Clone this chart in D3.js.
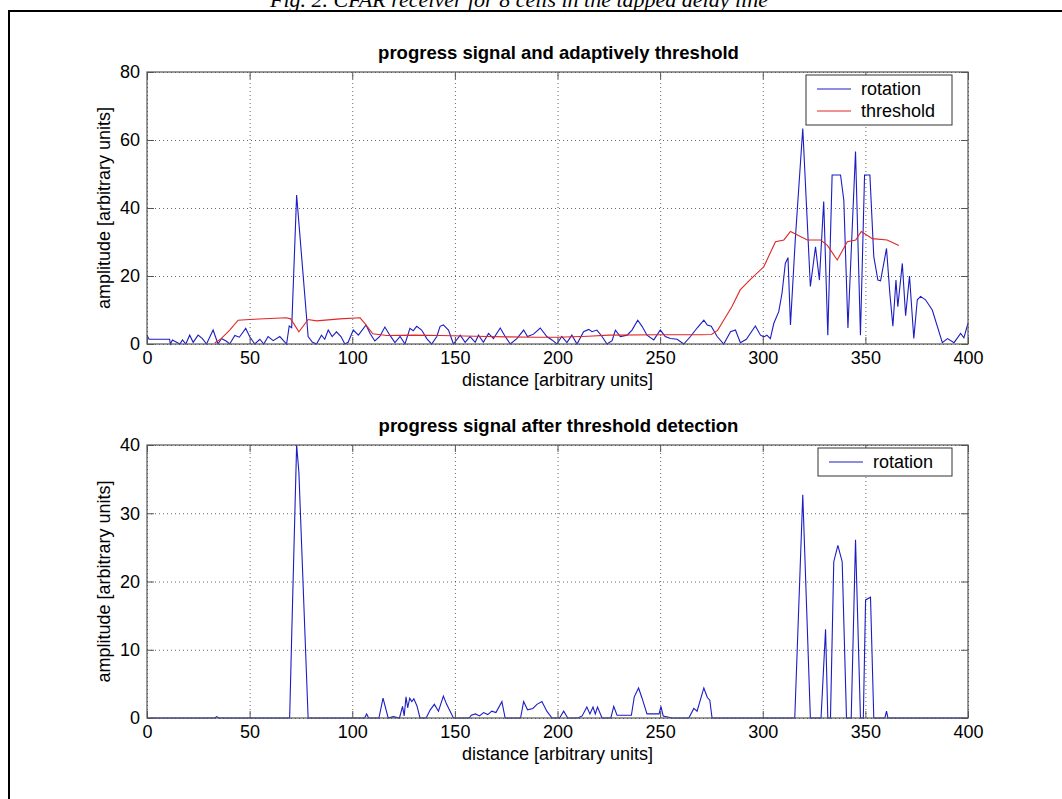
<!DOCTYPE html>
<html>
<head>
<meta charset="utf-8">
<script src="https://cdn.jsdelivr.net/npm/d3@7"></script>
<style>
  body { margin: 0; background: #fff; }
  text { font-family: "Liberation Sans", Arial, Helvetica, sans-serif; fill: #000; }
  .grid line { stroke: #000; stroke-dasharray: 1,3; stroke-width: 0.8; opacity: 0.75; }
  .grid path { display: none; }
  .axis path, .axis line { stroke: #555; }
</style>
</head>
<body>
<script>
/* values: [distance, amplitude] vertices */

const xTicks = [0, 50, 100, 150, 200, 250, 300, 350, 400];
const topYTicks = [0, 20, 40, 60, 80];
const bottomYTicks = [0, 10, 20, 30, 40];

const topRotation = [
  [0,2.6],[1,1.4],[11,1.4],[11.4,0],[12.4,1.2],[16,0],[17.3,1.2],[18.9,0],[20.8,2.6],[22.5,0.5],
  [24.9,2.6],[27,1.6],[29,0],[32.2,4.1],[34.6,0],[36.3,1.6],[38.7,0.8],[40.3,0],[42.8,2.5],[45,2],
  [48.1,4.6],[50,2.2],[52.5,0],[55,1.4],[56.9,0],[59,2.2],[61.5,1],[64.7,2.2],[68,0],[69.3,5.3],
  [70.5,4.8],[72.9,43.8],[78.5,2.2],[80.5,0.6],[82.6,0],[85,2.6],[86.6,1.4],[88.3,4.1],[90.2,2.2],[92.3,3.6],
  [94.5,2.2],[96.4,0],[98,0.5],[100.5,4.1],[103,2.6],[106.7,5.6],[108.7,3.1],[111,0.9],[113.4,2.2],[115.9,5],
  [118.3,2.6],[120.8,0.4],[123.3,2.2],[125.7,0],[128.1,4.6],[129.7,3.9],[131.4,5.2],[133.8,4.1],[136.3,1.6],[138.7,0],
  [141.2,2.2],[142.8,5.2],[144.4,5.6],[146.9,4.1],[149.3,0],[152.6,2.6],[155,0.5],[157.4,2.2],[159.9,0.5],[161.5,2.6],
  [163.9,0.5],[166.4,3.1],[168.8,1.6],[172.1,4.7],[174.5,2.2],[177,0],[180.2,1.6],[183.5,4.1],[185.4,2.2],[188.3,2.9],
  [191.6,4.7],[194.8,2.2],[197.3,1.2],[199.7,0],[202.1,2.2],[204.6,0.4],[207,2.6],[209.5,0],[212.7,3.6],[215.2,4.3],
  [216.8,3.6],[219.2,4.1],[221.7,2.2],[224.1,0],[226.6,1],[228.2,4.1],[230.6,2.2],[233.9,2.6],[236.3,4.1],[239.1,7],
  [241.2,5.2],[243.6,2.6],[246.9,1.2],[250.1,4.1],[252.5,2.2],[255,1.6],[258.3,1.4],[261.5,0],[264.8,2.2],[268,4.7],
  [271.3,7],[273,5.6],[274.9,5.2],[277.8,2.2],[281,0],[284.3,3.6],[286.7,4.1],[289.1,0.4],[292,1.4],[296.4,5.3],
  [298.9,2.6],[300.5,2.1],[302,2.6],[303.7,1.6],[305.4,6.1],[307.8,9.5],[309.4,15],[311,23.7],[312.3,25.4],[313.5,5.6],
  [315.9,31.2],[319.5,63.4],[323.2,16.9],[325.7,28.6],[327.6,18.8],[329.7,41.9],[331.7,2.6],[333.8,49.7],[337.9,49.7],[339.5,42.3],
  [341.5,4.7],[345.2,56.6],[347.6,2.6],[349.6,49.7],[352.2,49.7],[354.1,25.7],[356.1,18.8],[357.4,18.6],[360.3,28.1],[361.9,15],
  [363.4,5.2],[364.9,18.8],[365.8,11],[368,23.7],[369.6,8.3],[371.5,20],[373.6,1.6],[375.3,13],[376.9,14],[379.3,13],
  [382.6,10],[387.5,0.4],[390,1.6],[393.2,0.4],[396.4,3.1],[398,1.8],[400,6.1]
];

const topThreshold = [
  [33,0.3],[36,1.5],[40.3,4.1],[44.4,7],[50,7.2],[60,7.5],[67.8,7.7],[70,7.4],[74,3.6],[78.5,7.2],
  [82.6,6.8],[94,7.4],[103.8,7.7],[106.2,6],[110,3],[116.8,2.5],[130,2.6],[142.8,2.5],[160,2.3],[175,2.1],
  [190,2],[200,2],[215,2.3],[225,2.6],[250,2.7],[270,2.7],[275,2.8],[278,4],[282,8],[285,11],
  [289,15.9],[294,19],[300.5,22.7],[306.2,30.1],[310.3,30.6],[313.5,33.1],[321.7,30.6],[328.2,30.6],[331.5,29],[336.3,24.7],
  [341.2,30.1],[345.3,30.6],[348,33.1],[353.4,31],[360.6,30.6],[366.3,29]
];

const bottomRotation = [
  [0,0],[33,0],[34,0.2],[35,0],[69.5,0],[70.5,12],[72.9,40],[74,36],[75,28],[78.5,0],
  [106,0],[107,0.6],[108,0],[113,0],[115,2.9],[117.5,0],[120,0.2],[123,0],[124.5,1.7],[125.3,0.3],
  [126.2,3.1],[127,1.5],[128,2.9],[129,2.4],[130,2.8],[131.5,1.8],[133,0],[136,0],[138,1.2],[140,2],
  [142,1],[144.4,3.2],[146,2],[149.3,0],[157,0],[158,0.4],[160,0.6],[162,0.3],[164,0.8],[166,0.5],
  [168,1],[170,0.8],[172.9,2.4],[174.5,0],[182,0],[183.5,2.4],[185.4,1.2],[188,1.4],[190,2],[192.4,2.4],
  [194.8,1],[197.3,0],[201,0],[203,1],[205,0],[210,0],[212,0.3],[214.3,1.6],[215.8,0.6],[217.3,1.6],
  [218.4,0.6],[219.5,1.6],[221.7,0],[226,0],[227.4,1.7],[229,0.4],[236,0.4],[237.4,3.1],[239.5,4.4],[241.2,2.9],
  [243.6,0.6],[249.5,0.6],[250.4,1.7],[251.5,0.3],[255.8,0],[264,0],[266.4,1.4],[268,1],[271.3,4.4],[273,3],
  [274.2,2.6],[275.3,0],[315.6,0],[319.5,32.7],[323.2,0],[328.4,0],[330.6,13],[331.7,0],[333,0],[334.6,22.9],
  [336.6,25.3],[338.7,22.9],[340.8,0],[343.1,0],[345.2,26.1],[347.6,0],[349,0],[350.1,17.3],[352.5,17.7],[354.1,0],
  [359.5,0],[360.3,1],[361,0],[400,0]
];

const BLUE = '#1c1cc4', RED = '#e02626';
const LEFT = 147, RIGHT = 968;
const FONT = '18px';

const svg = d3.select('body').append('svg')
    .attr('width', 1062).attr('height', 799);
svg.append('rect').attr('width', 1062).attr('height', 799).attr('fill', '#fff');

/* the page around the figure: caption (cut by the crop) and frame */
svg.append('text')
    .attr('x', 519).attr('y', 7)
    .attr('text-anchor', 'middle')
    .style('font-family', '"Liberation Serif", "Times New Roman", serif')
    .style('font-style', 'italic')
    .style('font-size', '22px')
    .text('Fig. 2.  CFAR receiver for 8 cells in the tapped delay line');
svg.append('path')
    .attr('d', 'M9,799 V11 H1062')
    .attr('fill', 'none').attr('stroke', '#000').attr('stroke-width', 2);

function makePanel(opts) {
    const x = d3.scaleLinear().domain([0, 400]).range([LEFT, RIGHT]);
    const y = d3.scaleLinear().domain([0, opts.yTicks[opts.yTicks.length - 1]]).range([opts.bottom, opts.top]);
    const h = opts.bottom - opts.top, w = RIGHT - LEFT;
    const g = svg.append('g');

    // dotted grid
    g.append('g').attr('class', 'grid')
        .attr('transform', `translate(0,${opts.bottom})`)
        .call(d3.axisBottom(x).tickValues(xTicks).tickSize(-h).tickFormat(''));
    g.append('g').attr('class', 'grid')
        .attr('transform', `translate(${LEFT},0)`)
        .call(d3.axisLeft(y).tickValues(opts.yTicks).tickSize(-w).tickFormat(''));

    // data lines
    const line = d3.line().x(d => x(d[0])).y(d => y(d[1]));
    opts.series.forEach(s => {
        g.append('path').datum(s.data)
            .attr('d', line)
            .attr('fill', 'none')
            .attr('stroke', s.color)
            .attr('stroke-width', 1.1);
    });

    // box with inward ticks
    g.append('rect')
        .attr('x', LEFT).attr('y', opts.top).attr('width', w).attr('height', h)
        .attr('fill', 'none').attr('stroke', '#555').attr('stroke-width', 1.2);
    const bottomAxis = g.append('g').attr('class', 'axis')
        .attr('transform', `translate(0,${opts.bottom})`)
        .call(d3.axisBottom(x).tickValues(xTicks).tickSizeInner(-7).tickSizeOuter(0).tickPadding(7));
    g.append('g').attr('class', 'axis')
        .attr('transform', `translate(0,${opts.top})`)
        .call(d3.axisTop(x).tickValues(xTicks).tickSizeInner(-7).tickSizeOuter(0).tickFormat(''));
    const leftAxis = g.append('g').attr('class', 'axis')
        .attr('transform', `translate(${LEFT},0)`)
        .call(d3.axisLeft(y).tickValues(opts.yTicks).tickSizeInner(-7).tickSizeOuter(0).tickPadding(7));
    g.append('g').attr('class', 'axis')
        .attr('transform', `translate(${RIGHT},0)`)
        .call(d3.axisRight(y).tickValues(opts.yTicks).tickSizeInner(-7).tickSizeOuter(0).tickFormat(''));
    g.selectAll('.axis .domain').remove();
    [bottomAxis, leftAxis].forEach(a => a.selectAll('text')
        .style('font-size', FONT).attr('fill', '#000'));

    // titles and labels
    g.append('text')
        .attr('x', (LEFT + RIGHT) / 2 + 1).attr('y', opts.top - 13)
        .attr('text-anchor', 'middle')
        .style('font-size', '18.5px').style('font-weight', 'bold')
        .text(opts.title);
    g.append('text')
        .attr('x', (LEFT + RIGHT) / 2).attr('y', opts.bottom + 42)
        .attr('text-anchor', 'middle')
        .style('font-size', FONT)
        .text('distance [arbitrary units]');
    g.append('text')
        .attr('transform', `translate(110,${(opts.top + opts.bottom) / 2}) rotate(-90)`)
        .attr('text-anchor', 'middle')
        .style('font-size', FONT)
        .text('amplitude [arbitrary units]');

    // legend
    const lg = g.append('g')
        .attr('transform', `translate(${RIGHT - 16 - opts.legendWidth},${opts.top + 3})`);
    lg.append('rect')
        .attr('width', opts.legendWidth).attr('height', 6 + 22 * opts.series.length)
        .attr('fill', '#fff').attr('stroke', '#333').attr('stroke-width', 1);
    opts.series.forEach((s, i) => {
        const yy = 14 + 22 * i;
        lg.append('line')
            .attr('x1', 11).attr('x2', 45).attr('y1', yy).attr('y2', yy)
            .attr('stroke', s.color).attr('stroke-width', 1.1);
        lg.append('text')
            .attr('x', 55).attr('y', yy + 6)
            .style('font-size', FONT)
            .text(s.name);
    });
}

makePanel({
    top: 72, bottom: 344, yTicks: topYTicks,
    title: 'progress signal and adaptively threshold',
    legendWidth: 146,
    series: [
        {name: 'rotation', color: BLUE, data: topRotation},
        {name: 'threshold', color: RED, data: topThreshold}
    ]
});

makePanel({
    top: 445, bottom: 718, yTicks: bottomYTicks,
    title: 'progress signal after threshold detection',
    legendWidth: 134,
    series: [
        {name: 'rotation', color: BLUE, data: bottomRotation}
    ]
});
</script>
</body>
</html>
